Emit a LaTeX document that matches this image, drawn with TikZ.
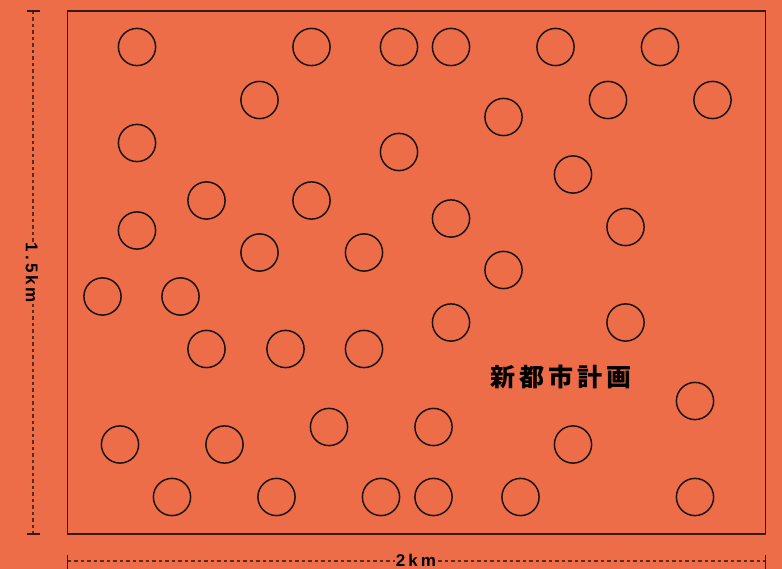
\documentclass[tikz,border=0pt]{standalone}
\usepackage{fontspec}
\setsansfont{Liberation Sans}
\newfontfamily\cjk{Noto Sans CJK JP}
\definecolor{bg}{RGB}{238,109,73}
\definecolor{dimc}{RGB}{95,42,28}
\definecolor{edge}{RGB}{55,25,15}
\definecolor{ink}{RGB}{25,20,18}
\tikzset{
  house/.style={circle, draw=ink, line width=1.5pt, minimum size=37.2pt, inner sep=0pt},
  plan/.style={draw=edge, line width=1.8pt},
  dimline/.style={draw=dimc, line width=1.3pt, dash pattern=on 3.5pt off 3pt},
  dimtick/.style={draw=edge, line width=1.2pt},
  dimlabel/.style={fill=bg, inner sep=1pt, font=\sffamily\bfseries\fontsize{17}{17}\selectfont, text=black},
  title/.style={font=\cjk\bfseries\fontsize{25}{25}\selectfont, text=black, inner sep=0pt}
}
\begin{document}
\begin{tikzpicture}[x=1pt,y=-1pt]
\fill[bg] (0,0) rectangle (782,569);
\useasboundingbox (0,0) rectangle (782,569);
% plan outline
\coordinate (nw) at (67.5,11);
\coordinate (se) at (765.5,534);
\draw[plan] (nw) rectangle (se);
% circles
\foreach \n/\x/\y in {
  1/137/47, 2/311.5/47, 3/399/47, 4/451/47, 5/555.5/47, 6/660/47,
  7/259.5/100, 8/608/100, 9/712.5/100, 10/503.5/117,
  11/137/143, 12/399/152, 13/573/174.5,
  14/206.5/200.5, 15/311.5/200.5, 16/451/218.5, 17/625.5/227, 18/137/230.5,
  19/259.5/252.5, 20/364/252.5, 21/503.5/270,
  22/102.5/296.5, 23/180.5/296.5, 24/451/322.5, 25/625.5/322.5,
  26/206.5/349, 27/285.5/349, 28/364/349,
  29/695/401, 30/329/427, 31/433.5/427,
  32/120/444.5, 33/224.5/444.5, 34/573/444.5,
  35/172/497, 36/276.5/497, 37/381/497, 38/433.5/497, 39/520.5/497, 40/695/497}
  \node[house] (c\n) at (\x,\y) {};
% title
\node[title] (name) at (561,377) {新\kern4pt 都\kern4pt 市\kern4pt 計\kern4pt 画};
% vertical dimension
\coordinate (vt) at (33,11);
\coordinate (vb) at (33,534);
\draw[dimline] (vt) -- (vb);
\draw[dimtick] ([xshift=-6pt]vt) -- ([xshift=7pt]vt);
\draw[dimtick] ([xshift=-6pt]vb) -- ([xshift=7pt]vb);
\node[dimlabel, rotate=-90] (hgt) at (32,273) {1\kern3pt.\kern3pt5\kern3pt k\kern3pt m};
% horizontal dimension
\coordinate (hl) at (67.5,561);
\coordinate (hr) at (765.5,561);
\draw[dimline] (hl) -- (hr);
\draw[dimtick] ([yshift=-8pt]hl) -- ([yshift=6pt]hl);
\draw[dimtick] ([yshift=-8pt]hr) -- ([yshift=6pt]hr);
\node[dimlabel] (wid) at (416,560) {2\kern3pt k\kern3pt m};
\end{tikzpicture}
\end{document}
